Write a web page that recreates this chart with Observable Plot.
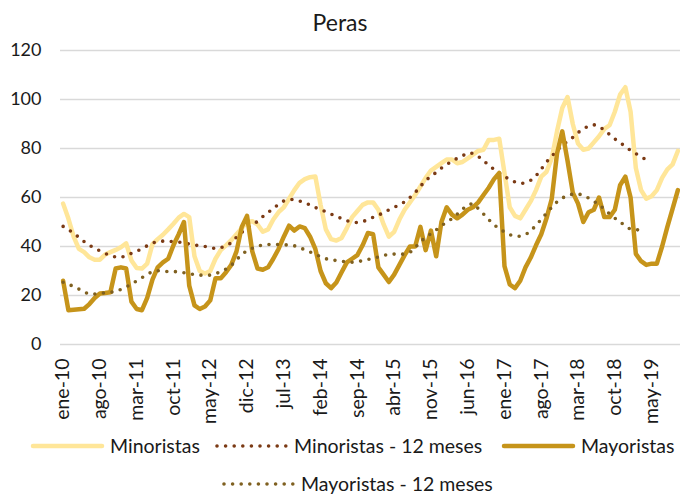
<!DOCTYPE html>
<html><head><meta charset="utf-8">
<script src="https://cdn.jsdelivr.net/npm/d3@7"></script>
<script src="https://cdn.jsdelivr.net/npm/@observablehq/plot@0.6"></script>
<style>
body{margin:0;background:#fff;}
#wrap{position:relative;width:680px;height:494px;overflow:hidden;font-family:Lato, sans-serif;color:#1a1a1a;background:#fff;}
#title{position:absolute;left:0;top:0;width:680px;height:44px;text-align:center;font-size:23px;line-height:44px;z-index:2;}
#chart{position:absolute;left:0;top:30px;z-index:1;}
#legend{position:absolute;left:0;top:425px;}
</style></head><body>
<div id="wrap">
<div id="chart"></div>
<div id="title">Peras</div>
<div id="legend"></div>
</div>
<script>
// Tick labels (every 7 months starting ene-10)
const tickLabels = ["ene-10","ago-10","mar-11","oct-11","may-12","dic-12","jul-13","feb-14","sep-14","abr-15","nov-15","jun-16","ene-17","ago-17","mar-18","oct-18","may-19"];
const yTicks = [0,20,40,60,80,100,120];

// Monthly series, ene-10 .. oct-19
const minoristas = [57.5,51.4,44,39,37.7,35.6,34.6,34.6,36.7,37.7,38.6,39.7,41.3,34.3,31.2,31,33,41,43,44.8,47,49.3,51.8,53.3,52,36,30,29,30,35,38.5,40.5,42.6,45,47.5,50,50.3,49,46,47,51,54,56,59.5,63,66,67.5,68.3,68.6,57,47,43,42.4,43.5,47.5,52,54.5,57,58,58,55,49,44,46,51,55,58,61,64.5,68,71,72.5,74,75.5,75.5,74,74.5,76,77.5,79,79.5,83.5,83.5,84,70,56,52.5,51.5,55,58.5,63,68.5,70.5,76,87,96.5,101,90,82,79.5,80,82.5,85,88,89.5,95,102,105,95,72,63,59.5,60.5,63,68,71.5,73.5,79];
const minoristas12 = [48.2,47,45.3,43.8,42,40.5,39.3,38.2,37.2,36.2,35.7,35.5,36.3,37.2,38,39.2,40.3,41.4,42,42.2,42.1,42,41.8,41.5,41,40.6,40.3,40,39.6,39.1,39.5,40.3,41.5,43.8,45.8,47.5,48.6,50.3,52.2,53.8,55.6,57.2,58.6,59.1,59.2,58.6,57.8,57,55.9,55,54.2,53.2,52.3,51.4,50.5,49.9,49.8,50.1,51,51.9,52.8,53.8,55,56,57,58.2,60,62,64.6,66.8,68.8,70.2,72,73.5,74.8,76,77,78.2,78,76.8,75,73.2,71.5,70,68.5,67.4,66.3,65.7,66,67,68.8,71.6,74.5,76.8,79.2,81.5,82.8,84.5,86.5,88,89.2,89.7,89,87.5,85.7,83.9,82.4,80.8,79.2,77.9,76.6,75.4];
const mayoristas = [26,14,14.2,14.4,14.6,16.5,19,20.8,21,21.3,31,31.5,31,17.5,14.5,14,19,26.5,31.5,33.5,35,40.5,45,50,24,16,14.5,15.5,18,27,27,29.5,32.5,38,48,52.5,38,31,30.5,31.5,35,39,44,48.5,46.5,48.2,47.5,44,39,30,25,23,25.3,29.5,33.5,35,36.5,40.5,45.5,45,31.5,28.5,25.5,28.5,32.5,36.5,40,40,48,38.5,46.5,36,50,56,53,51.5,53,55,56,58,61,64,67.5,70,32,24.5,23,26,31.5,35.5,40.5,45,51.5,59.5,78,87,75,62,57.5,50,54,55,60,52,52,55,65,68.5,60,37,34,32.5,33,33,40,48,55.5,63];
const mayoristas12 = [25.4,24.6,23.7,22.6,21.4,20.5,20.6,20.9,21.1,21.3,21.6,22.5,23.5,24.6,26,27.3,28.6,29.8,30.1,29.9,29.8,29.8,29.6,29.3,28.9,28.5,28.3,28.3,28.3,28.9,29.7,30.8,32.3,34.5,36.9,38.2,39.3,40.2,40.6,40.8,40.8,40.8,40.7,40.6,40.3,39.5,38.7,37.8,36.8,35.8,35,34.5,34.3,34,33.7,33.6,33.8,34.2,34.7,35.3,35.7,36.3,36.9,36.9,36.7,37,37.5,39.5,42,43.7,45.2,46.8,48.5,50,51.3,53.2,55.2,57,57.5,55.5,53.3,51,48.8,47.3,45.9,44.8,44.2,44.2,44.8,46.3,48.7,51,53.6,56,58.2,59.8,60.8,61.4,61.5,60.9,59.8,58.5,57,55.3,53.3,51.6,50,48.4,47,46.8,46.8];

const colors = {min:"#FFE699", min12:"#7B3A14", may:"#C6941A", may12:"#7F6020"};
const dots = {strokeDasharray:"0 8.6", strokeLinecap:"round", strokeWidth:3.6};

const tickIdx = tickLabels.map((_, k) => k * 7);

const chart = Plot.plot({
  width: 680, height: 395,
  marginLeft: 60, marginRight: 0, marginTop: 20, marginBottom: 81,
  style: {fontFamily: "Lato, sans-serif", fontSize: "18px", color: "#1a1a1a", background: "transparent", overflow: "visible"},
  x: {domain: [-0.5, minoristas.length - 0.5]},
  y: {domain: [0, 120]},
  marks: [
    Plot.gridY(yTicks, {stroke: "#d9d9d9", strokeOpacity: 1, strokeWidth: 1.5}),
    Plot.axisY(yTicks, {tickSize: 0, tickPadding: 19, label: null}),
    Plot.axisX(tickIdx, {tickSize: 0, tickPadding: 14, tickRotate: -90, fontSize: 19.5, tickFormat: d => tickLabels[d / 7], label: null}),
    Plot.line(minoristas, {x: (d, i) => i, y: d => d, stroke: colors.min, strokeWidth: 4.5}),
    Plot.line(minoristas12, {x: (d, i) => i, y: d => d, stroke: colors.min12, ...dots}),
    Plot.line(mayoristas, {x: (d, i) => i, y: d => d, stroke: colors.may, strokeWidth: 4.5}),
    Plot.line(mayoristas12, {x: (d, i) => i, y: d => d, stroke: colors.may12, ...dots})
  ]
});
document.getElementById("chart").append(chart);

// Legend
const legendItems = [
  {label: "Minoristas", color: colors.min, dotted: false, x: 33, y: 21},
  {label: "Minoristas - 12 meses", color: colors.min12, dotted: true, x: 217, y: 21},
  {label: "Mayoristas", color: colors.may, dotted: false, x: 504, y: 21},
  {label: "Mayoristas - 12 meses", color: colors.may12, dotted: true, x: 224, y: 59}
];
const lg = d3.create("svg").attr("width", 680).attr("height", 69)
  .style("font-family", "Lato, sans-serif").style("font-size", "19.5px");
for (const it of legendItems) {
  lg.append("line").attr("x1", it.x).attr("x2", it.x + 69).attr("y1", it.y).attr("y2", it.y)
    .attr("stroke", it.color).attr("stroke-width", it.dotted ? 3.6 : 4.5)
    .attr("stroke-linecap", "round")
    .attr("stroke-dasharray", it.dotted ? "0 8.6" : null);
  lg.append("text").attr("x", it.x + 77).attr("y", it.y).attr("dy", "0.35em")
    .attr("fill", "#1a1a1a").text(it.label);
}
document.getElementById("legend").append(lg.node());
</script>
</body></html>
